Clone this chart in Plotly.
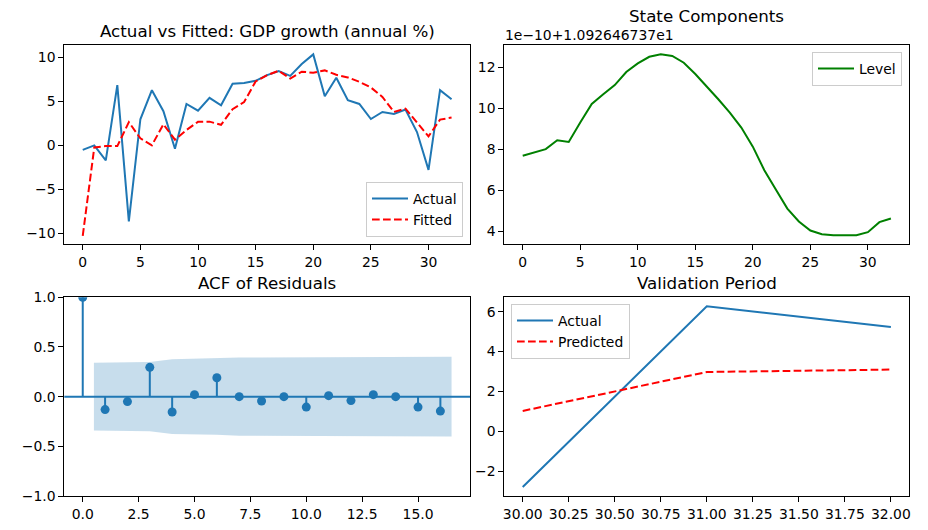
import plotly.graph_objects as go

# ---------------- data ----------------
t = list(range(33))
actual = [-0.5, 0.0, -1.7, 6.84, -8.63, 2.97, 6.27, 3.88, -0.38, 4.71, 3.95, 5.4, 4.56,
          7.0, 7.1, 7.34, 7.98, 8.44, 7.9, 9.24, 10.34, 5.59, 7.68, 5.13, 4.71, 3.0,
          3.8, 3.57, 4.07, 1.52, -2.78, 6.27, 5.24]
fitted = [-10.27, -0.23, -0.08, -0.08, 2.64, 0.8, 0.02, 2.4, 0.65, 1.75, 2.68, 2.7, 2.34,
          4.12, 4.92, 7.26, 7.98, 8.48, 7.6, 8.37, 8.25, 8.52, 8.02, 7.72, 7.22, 6.58,
          5.51, 3.8, 4.18, 2.62, 1.03, 2.93, 3.16]
# Level state in units of 1e-10 above 1.092646737e1
level = [7.68, 7.83, 8.0, 8.43, 8.35, 9.3, 10.2, 10.67, 11.12, 11.76, 12.18, 12.5, 12.62,
         12.54, 12.21, 11.66, 11.06, 10.43, 9.78, 9.05, 8.12, 6.97, 6.03, 5.1, 4.47, 4.03,
         3.85, 3.8, 3.8, 3.8, 3.95, 4.44, 4.62]
lags = list(range(17))
acf_vals = [1.0, -0.13, -0.05, 0.295, -0.155, 0.02, 0.19, 0.0, -0.044, 0.0, -0.105, 0.01,
            -0.04, 0.02, 0.0, -0.105, -0.145]
conf_x = [0.5, 2, 3, 4, 5, 6, 7, 8, 9, 10, 11, 12, 13, 14, 15, 16.5]
conf_half = [0.341, 0.347, 0.348, 0.377, 0.384, 0.384, 0.393, 0.395, 0.396, 0.396, 0.398,
             0.398, 0.399, 0.399, 0.400, 0.402]
val_t = [30, 31, 32]
val_actual = [-2.78, 6.27, 5.23]
val_pred = [1.03, 2.98, 3.1]

offset_text = "1e\u221210+1.092646737e1"

BLUE = "#1f77b4"
RED = "red"
GREEN = "green"
DASH = "7.7px,3.3px"
FONT = "DejaVu Sans"
W, H = 928, 530
TICK = 13.9
TITLE = 16.7


def px_x(p):
    return p / W


def px_y(p):
    return 1 - p / H


fig = go.Figure()

# top-left
fig.add_trace(go.Scatter(x=t, y=actual, mode="lines", name="Actual",
                         line=dict(color=BLUE, width=2), xaxis="x", yaxis="y", legend="legend"))
fig.add_trace(go.Scatter(x=t, y=fitted, mode="lines", name="Fitted",
                         line=dict(color=RED, width=2, dash=DASH), xaxis="x", yaxis="y", legend="legend"))
# top-right
fig.add_trace(go.Scatter(x=t, y=level, mode="lines", name="Level",
                         line=dict(color=GREEN, width=2), xaxis="x2", yaxis="y2", legend="legend2"))
# ACF band
band_x = conf_x + conf_x[::-1]
band_y = conf_half + [-v for v in conf_half[::-1]]
fig.add_trace(go.Scatter(x=band_x, y=band_y, mode="lines", fill="toself",
                         fillcolor="rgba(31,119,180,0.25)", line=dict(width=0),
                         showlegend=False, hoverinfo="skip", xaxis="x3", yaxis="y3"))
# ACF stems
sx, sy = [], []
for lg, v in zip(lags, acf_vals):
    sx += [lg, lg, None]
    sy += [0, v, None]
fig.add_trace(go.Scatter(x=sx, y=sy, mode="lines", line=dict(color=BLUE, width=2),
                         showlegend=False, xaxis="x3", yaxis="y3"))
fig.add_trace(go.Scatter(x=lags, y=acf_vals, mode="markers",
                         marker=dict(color=BLUE, size=9), showlegend=False,
                         xaxis="x3", yaxis="y3"))
# validation
fig.add_trace(go.Scatter(x=val_t, y=val_actual, mode="lines", name="Actual",
                         line=dict(color=BLUE, width=2), xaxis="x4", yaxis="y4", legend="legend3"))
fig.add_trace(go.Scatter(x=val_t, y=val_pred, mode="lines", name="Predicted",
                         line=dict(color=RED, width=2, dash=DASH), xaxis="x4", yaxis="y4", legend="legend3"))

axis_common = dict(showline=True, mirror=True, linecolor="black", linewidth=1,
                   ticks="outside", ticklen=5, tickcolor="black", tickwidth=1,
                   showgrid=False, zeroline=False, automargin=False,
                   tickfont=dict(family=FONT, size=TICK, color="black"))

dom_x_l = [px_x(64.3), px_x(470)]
dom_x_r = [px_x(504.3), px_x(909.3)]
dom_y_t = [px_y(244.3), px_y(45.3)]
dom_y_b = [px_y(496), px_y(297.3)]

legend_common = dict(bordercolor="#cccccc", borderwidth=1, bgcolor="rgba(255,255,255,0.8)",
                     font=dict(family=FONT, size=TICK), itemwidth=36)

fig.update_layout(
    width=W, height=H, margin=dict(l=0, r=0, t=0, b=0, autoexpand=False),
    paper_bgcolor="white", plot_bgcolor="white",
    font=dict(family=FONT, size=TICK, color="black"),
    xaxis=dict(domain=dom_x_l, anchor="y", range=[-1.6, 33.6], tickvals=[0, 5, 10, 15, 20, 25, 30], **axis_common),
    yaxis=dict(domain=dom_y_t, anchor="x", range=[-11.23, 11.37], tickvals=[-10, -5, 0, 5, 10], **axis_common),
    xaxis2=dict(domain=dom_x_r, anchor="y2", range=[-1.6, 33.6], tickvals=[0, 5, 10, 15, 20, 25, 30], **axis_common),
    yaxis2=dict(domain=dom_y_t, anchor="x2", range=[3.36, 13.06], tickvals=[4, 6, 8, 10, 12], **axis_common),
    xaxis3=dict(domain=dom_x_l, anchor="y3", range=[-0.825, 17.325],
                tickvals=[0, 2.5, 5, 7.5, 10, 12.5, 15], tickformat=".1f", **axis_common),
    yaxis3=dict(domain=dom_y_b, anchor="x3", range=[-1, 1],
                tickvals=[-1, -0.5, 0, 0.5, 1], tickformat=".1f", **axis_common),
    xaxis4=dict(domain=dom_x_r, anchor="y4", range=[29.9, 32.1],
                tickvals=[30, 30.25, 30.5, 30.75, 31, 31.25, 31.5, 31.75, 32], tickformat=".2f", **axis_common),
    yaxis4=dict(domain=dom_y_b, anchor="x4", range=[-3.23, 6.72], tickvals=[-2, 0, 2, 4, 6], **axis_common),
    legend=dict(x=px_x(463), y=px_y(237), xanchor="right", yanchor="bottom", **legend_common),
    legend2=dict(x=px_x(902), y=px_y(52), xanchor="right", yanchor="top", **legend_common),
    legend3=dict(x=px_x(511), y=px_y(304), xanchor="left", yanchor="top", **legend_common),
    showlegend=True,
)

fig.add_shape(type="line", xref="x3 domain", x0=0, x1=1, yref="y3", y0=0, y1=0,
              line=dict(color=BLUE, width=2), layer="above")

titles = [
    ("Actual vs Fitted: GDP growth (annual %)", (64.3 + 470) / 2, 31),
    ("State Components", (504.3 + 909.3) / 2, 16),
    ("ACF of Residuals", (64.3 + 470) / 2, 283),
    ("Validation Period", (504.3 + 909.3) / 2, 283),
]
for txt, cx, cy in titles:
    fig.add_annotation(text=txt, xref="paper", yref="paper", x=px_x(cx), y=px_y(cy),
                       xanchor="center", yanchor="middle", showarrow=False,
                       font=dict(family=FONT, size=TITLE, color="black"))
fig.add_annotation(text=offset_text, xref="paper", yref="paper", x=px_x(503), y=px_y(35),
                   xanchor="left", yanchor="middle", showarrow=False,
                   font=dict(family=FONT, size=TICK, color="black"))

fig.write_html("out.html",
               config={"displayModeBar": False},
               post_script="document.body.style.margin='0';document.body.style.padding='0';"
                           "document.documentElement.style.overflow='hidden';")
